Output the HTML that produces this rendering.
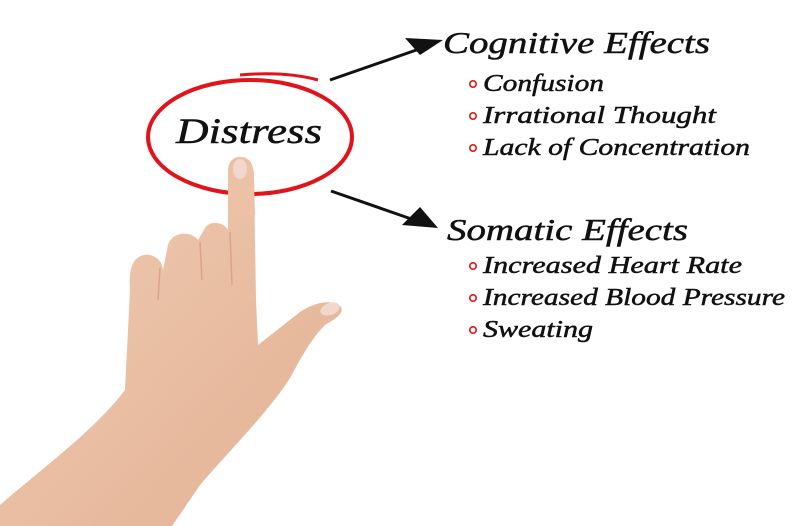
<!DOCTYPE html>
<html><head><meta charset="utf-8"><style>
html,body{margin:0;padding:0;background:#fff;}
svg{display:block}
text{font-family:"Liberation Serif",serif;font-style:italic;fill:#111;stroke:#111;stroke-width:0.5;}
</style></head><body>
<svg width="800" height="526" viewBox="0 0 800 526" xmlns="http://www.w3.org/2000/svg">
<defs>
<linearGradient id="sk" x1="0" y1="0" x2="1" y2="1">
<stop offset="0" stop-color="#f0cdb4"/><stop offset="1" stop-color="#e2b093"/>
</linearGradient>
</defs>
<path fill="url(#sk)" d="M0,526 L0,505 C40,470 95,430 125,390 L130,290 C128,265 135,253 150,255 C158,257 162,262 163,270 L168,245 C172,232 190,230 198,240 L205,228 C210,220 224,222 228,230 L228,172 C228,160 235,156 242,157 C250,158 254,165 254,178 L256,300 L258,345 L300,312 C318,300 335,300 341,307 C344,313 337,318 325,325 C310,340 300,360 290,378 C270,410 230,450 200,485 L172,526 Z"/>
<path d="M160,268 L158,300 M200,242 L202,280 M230,232 L232,285" stroke="#d9a487" stroke-width="1.5" fill="none"/>
<ellipse cx="330" cy="309" rx="10" ry="6" fill="#f3d7cc" transform="rotate(-20 330 309)"/>
<ellipse cx="250" cy="137" rx="102" ry="57" fill="none" stroke="#e0141a" stroke-width="4"/>
<path d="M240,75 Q285,71 318,80" stroke="#e0141a" stroke-width="3" fill="none"/>
<path fill="#ecc1a5" d="M228,175 C228,160 235,156 242,157 C250,158 254,165 254,178 L255,215 L228,215 Z"/>
<ellipse cx="240" cy="169" rx="7" ry="10" fill="#f3d7cc"/>
<text x="176" y="143" font-size="36" textLength="146" lengthAdjust="spacingAndGlyphs">Distress</text>
<line x1="330" y1="80" x2="425" y2="47" stroke="#111" stroke-width="3"/>
<polygon points="443,40 405,38 420,55" fill="#111"/>
<line x1="331" y1="191" x2="420" y2="222" stroke="#111" stroke-width="3"/>
<polygon points="438,228 420,207 402,225" fill="#111"/>
<text x="443" y="53" font-size="31" textLength="267" lengthAdjust="spacingAndGlyphs">Cognitive Effects</text>
<g fill="none" stroke="#e0141a" stroke-width="1.6">
<circle cx="473" cy="84" r="3.2"/><circle cx="473" cy="116" r="3.2"/><circle cx="473" cy="148" r="3.2"/>
<circle cx="473" cy="266" r="3.2"/><circle cx="473" cy="298" r="3.2"/><circle cx="473" cy="330" r="3.2"/>
</g>
<text x="483" y="91" font-size="24" textLength="121" lengthAdjust="spacingAndGlyphs">Confusion</text>
<text x="483" y="123" font-size="24" textLength="233" lengthAdjust="spacingAndGlyphs">Irrational Thought</text>
<text x="483" y="155" font-size="24" textLength="267" lengthAdjust="spacingAndGlyphs">Lack of Concentration</text>
<text x="447" y="240" font-size="31" textLength="241" lengthAdjust="spacingAndGlyphs">Somatic Effects</text>
<text x="483" y="273" font-size="24" textLength="259" lengthAdjust="spacingAndGlyphs">Increased Heart Rate</text>
<text x="483" y="305" font-size="24" textLength="302" lengthAdjust="spacingAndGlyphs">Increased Blood Pressure</text>
<text x="483" y="337" font-size="24" textLength="110" lengthAdjust="spacingAndGlyphs">Sweating</text>
</svg>
</body></html>
